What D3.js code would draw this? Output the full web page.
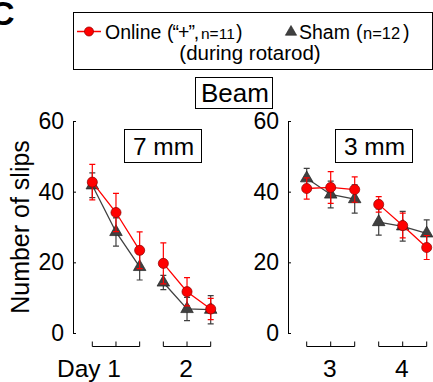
<!DOCTYPE html>
<html>
<head>
<meta charset="utf-8">
<script src="https://cdn.jsdelivr.net/npm/d3@7"></script>
<style>
  body { margin: 0; background: #fff; }
  svg { display: block; font-family: "Liberation Sans", Arial, sans-serif; }
</style>
</head>
<body>
<div id="chart"></div>
<script>
// data (number of slips, mean +/- sem), 3 trials per day
var days7 = ["Day 1", "2"];
var days3 = ["3", "4"];
var yTicks = [0, 20, 40, 60];

var online7 = [42.7, 34.1, 23.4, 19.7, 11.7, 6.8];
var online7Err = [5.0, 5.4, 5.2, 5.8, 4.0, 3.0];
var sham7 = [41.8, 28.6, 18.7, 14.3, 6.8, 6.6];
var sham7Err = [3.5, 4.0, 3.7, 2.0, 3.3, 4.0];

var online3 = [40.9, 41.2, 40.6, 36.4, 30.4, 24.2];
var online3Err = [3.0, 4.5, 3.6, 2.2, 3.5, 3.4];
var sham3 = [43.8, 39.2, 37.9, 31.4, 30.2, 28.2];
var sham3Err = [2.8, 3.8, 4.0, 3.7, 4.2, 3.8];

var width = 433, height = 382;
var red = "#ff0000", gray = "#404040";

var svg = d3.select("#chart").append("svg")
    .attr("width", width)
    .attr("height", height);

var y = d3.scaleLinear().domain([0, 60]).range([333, 121]);

// panel letter (cut at the corner like the source figure)
svg.append("text")
    .attr("x", -10).attr("y", 25)
    .attr("font-size", 34).attr("font-weight", "bold")
    .text("C");

// legend box
svg.append("rect")
    .attr("x", 73.5).attr("y", 12.5)
    .attr("width", 359).attr("height", 57)
    .attr("fill", "none").attr("stroke", "#000").attr("stroke-width", 1);

var leg = svg.append("g").attr("font-size", 19.5);
leg.append("line")
    .attr("x1", 77).attr("x2", 101).attr("y1", 31.5).attr("y2", 31.5)
    .attr("stroke", red).attr("stroke-width", 1.5);
leg.append("circle")
    .attr("cx", 89).attr("cy", 31.5).attr("r", 4.5)
    .attr("fill", red).attr("stroke", "#900").attr("stroke-width", 0.8);
var t1 = leg.append("text").attr("y", 38.5);
t1.append("tspan").attr("x", 105).text("Online");
t1.append("tspan").attr("x", 167).attr("letter-spacing", -1).text("(\u201c+\u201d,");
t1.append("tspan").attr("x", 201).attr("font-size", 15.5).text("n=11");
t1.append("tspan").attr("x", 236).text(")");

leg.append("path")
    .attr("d", d3.symbol().type(d3.symbolTriangle).size(55)())
    .attr("transform", "translate(291,32)")
    .attr("fill", gray).attr("stroke", "#222").attr("stroke-width", 0.6);
var t2 = leg.append("text").attr("y", 38.5);
t2.append("tspan").attr("x", 299).text("Sham");
t2.append("tspan").attr("x", 356).text("(");
t2.append("tspan").attr("x", 363).attr("font-size", 16.5).text("n=12");
t2.append("tspan").attr("x", 403).text(")");

leg.append("text")
    .attr("x", 250).attr("y", 60)
    .attr("text-anchor", "middle").attr("font-size", 20.5)
    .text("(during rotarod)");

// Beam title box
svg.append("rect")
    .attr("x", 195.5).attr("y", 77.5)
    .attr("width", 77).attr("height", 31)
    .attr("fill", "none").attr("stroke", "#000");
svg.append("text")
    .attr("x", 235).attr("y", 102)
    .attr("text-anchor", "middle").attr("font-size", 26)
    .text("Beam");

// y label
svg.append("text")
    .attr("transform", "translate(29,227) rotate(-90)")
    .attr("text-anchor", "middle").attr("font-size", 25)
    .text("Number of slips");

function panel(axisX, x0, x1, boxX, label, days, online, onlineErr, sham, shamErr) {
  var g = svg.append("g");
  var x = d3.scaleLinear().domain([0, 5]).range([x0, x1]);

  g.append("g")
      .attr("transform", "translate(" + axisX + ",0)")
      .call(d3.axisLeft(y).tickValues(yTicks).tickSizeInner(-3).tickSizeOuter(-3).tickPadding(9))
      .call(function (a) {
        a.selectAll("text").attr("font-size", 23).attr("fill", "#000")
            .attr("font-family", "Liberation Sans, Arial, sans-serif");
        a.selectAll("path, line").attr("stroke", "#000").attr("stroke-width", 1);
      });

  // box label
  var bw = 77;
  g.append("rect")
      .attr("x", boxX + 0.5).attr("y", 129.5)
      .attr("width", bw).attr("height", 33)
      .attr("fill", "none").attr("stroke", "#000");
  g.append("text")
      .attr("x", boxX + bw / 2 + 1).attr("y", 155)
      .attr("text-anchor", "middle").attr("font-size", 24.5)
      .text(label);

  // day brackets
  days.forEach(function (d, k) {
    var a = x(k * 3), b = x(k * 3 + 2), m = x(k * 3 + 1);
    var p = d3.path();
    p.moveTo(a, 341.5); p.lineTo(a, 346.5); p.lineTo(b, 346.5); p.lineTo(b, 341.5);
    p.moveTo(m, 346.5); p.lineTo(m, 341.5);
    g.append("path").attr("d", p.toString())
        .attr("fill", "none").attr("stroke", "#000").attr("stroke-width", 1);
    var first = d === "Day 1";
    g.append("text")
        .attr("x", first ? m + 5 : m - 1).attr("y", 377)
        .attr("text-anchor", first ? "end" : "middle")
        .attr("font-size", 24.5)
        .text(d);
  });

  function series(vals, errs, color, stroke, shape) {
    var idx = d3.range(vals.length);
    [[0, 3], [3, 6]].forEach(function (r) {
      g.append("path")
          .datum(idx.slice(r[0], r[1]))
          .attr("d", d3.line().x(function (i) { return x(i); }).y(function (i) { return y(vals[i]); }))
          .attr("fill", "none").attr("stroke", color).attr("stroke-width", 1.3);
    });
    g.selectAll(null).data(idx).enter().append("path")
        .attr("d", function (i) {
          var cx = x(i), lo = y(vals[i] - errs[i]), hi = y(vals[i] + errs[i]);
          return "M" + cx + "," + lo + "V" + hi +
                 "M" + (cx - 3) + "," + hi + "H" + (cx + 3) +
                 "M" + (cx - 3) + "," + lo + "H" + (cx + 3);
        })
        .attr("fill", "none").attr("stroke", color).attr("stroke-width", 1.2);
    g.selectAll(null).data(idx).enter().append("path")
        .attr("d", d3.symbol().type(shape).size(shape === d3.symbolCircle ? 80 : 68))
        .attr("transform", function (i) { return "translate(" + x(i) + "," + y(vals[i]) + ")"; })
        .attr("fill", color).attr("stroke", stroke).attr("stroke-width", 0.7);
  }

  series(sham, shamErr, gray, "#222", d3.symbolTriangle);
  series(online, onlineErr, red, "#800", d3.symbolCircle);
}

panel(73, 92.3, 210.7, 124, "7 mm", days7, online7, online7Err, sham7, sham7Err);
panel(288, 306.7, 426.7, 335, "3 mm", days3, online3, online3Err, sham3, sham3Err);
</script>
</body>
</html>
